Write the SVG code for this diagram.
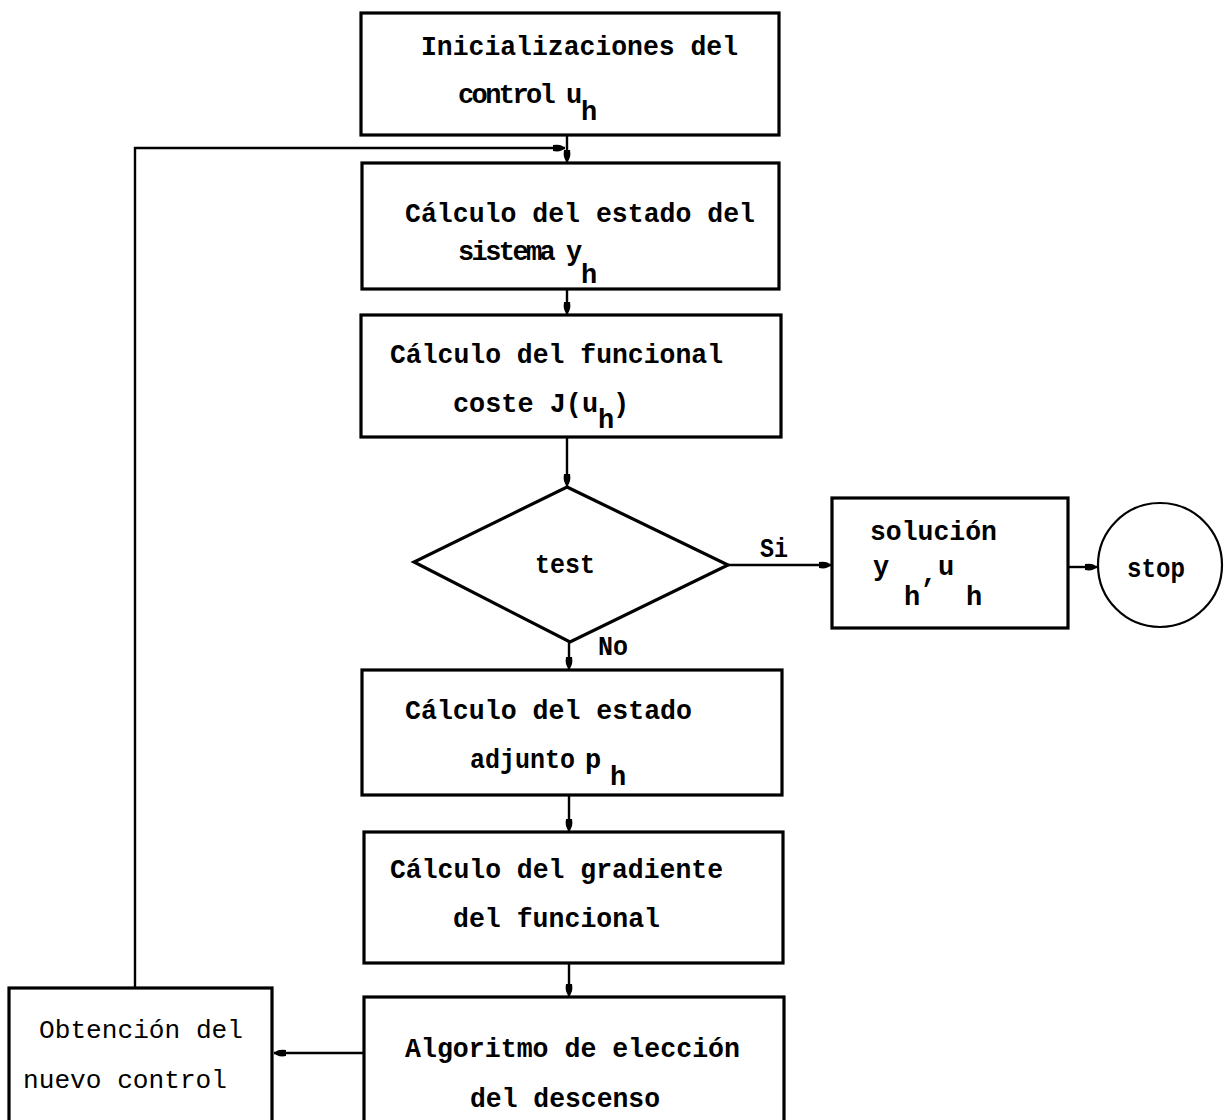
<svg xmlns="http://www.w3.org/2000/svg" width="1227" height="1120" viewBox="0 0 1227 1120">
<style>
.box{fill:none;stroke:#000;stroke-width:3.2}
.edge{fill:none;stroke:#000;stroke-width:2.4}
.t{font-family:"Liberation Mono","Courier New",monospace;font-size:27px;font-weight:bold;fill:#000}
.n{font-family:"Liberation Mono","Courier New",monospace;font-size:26px;font-weight:normal;fill:#000}
.tight{letter-spacing:-2.6px}
</style>
<defs>
<marker id="arr" markerUnits="userSpaceOnUse" markerWidth="16" markerHeight="12" refX="12" refY="6" orient="auto">
<path d="M0,3 Q8,1.5 12,6 Q8,10.5 0,9 z" fill="#000"/>
</marker>
</defs>
<rect width="1227" height="1120" fill="#fff"/>

<g id="connectors">
<line class="edge" x1="567" y1="136" x2="567" y2="162" marker-end="url(#arr)"/>
<polyline class="edge" points="135,988 135,148 565,148" marker-end="url(#arr)"/>
<line class="edge" x1="567" y1="290" x2="567" y2="314" marker-end="url(#arr)"/>
<line class="edge" x1="567" y1="438" x2="567" y2="486" marker-end="url(#arr)"/>
<line class="edge" x1="569" y1="642" x2="569" y2="669" marker-end="url(#arr)"/>
<line class="edge" x1="728" y1="565" x2="831" y2="565" marker-end="url(#arr)"/>
<line class="edge" x1="1069" y1="567" x2="1097" y2="567" marker-end="url(#arr)"/>
<line class="edge" x1="569" y1="796" x2="569" y2="831" marker-end="url(#arr)"/>
<line class="edge" x1="569" y1="964" x2="569" y2="996" marker-end="url(#arr)"/>
<line class="edge" x1="363" y1="1053" x2="274" y2="1053" marker-end="url(#arr)"/>
<text class="t" x="760" y="557" textLength="28" lengthAdjust="spacingAndGlyphs">Si</text>
<text class="t" x="598" y="655" textLength="30" lengthAdjust="spacingAndGlyphs">No</text>
</g>

<g id="init">
<rect class="box" x="361" y="13" width="418" height="122"/>
<text class="t" x="421" y="55" textLength="317" lengthAdjust="spacingAndGlyphs">Inicializaciones del</text>
<text class="t"><tspan class="tight" x="458" y="103">control </tspan><tspan x="566" y="103">u</tspan><tspan x="581" y="120">h</tspan></text>
</g>

<g id="estado">
<rect class="box" x="362" y="163" width="417" height="126"/>
<text class="t" x="405" y="222" textLength="350" lengthAdjust="spacingAndGlyphs">Cálculo del estado del</text>
<text class="t"><tspan class="tight" x="458" y="260">sistema </tspan><tspan x="566" y="260">y</tspan><tspan x="581" y="283">h</tspan></text>
</g>

<g id="funcional">
<rect class="box" x="361" y="315" width="420" height="122"/>
<text class="t" x="390" y="363" textLength="333" lengthAdjust="spacingAndGlyphs">Cálculo del funcional</text>
<text class="t"><tspan x="453" y="412" textLength="145" lengthAdjust="spacingAndGlyphs">coste J(u</tspan><tspan x="598" y="428">h</tspan><tspan x="613" y="412">)</tspan></text>
</g>

<g id="test">
<polygon class="box" points="567,487 728,565 570,642 414,562"/>
<text class="t" x="535" y="573" textLength="60" lengthAdjust="spacingAndGlyphs">test</text>
</g>

<g id="solucion">
<rect class="box" x="832" y="498" width="236" height="130"/>
<text class="t" x="870" y="540" textLength="127" lengthAdjust="spacingAndGlyphs">solución</text>
<text class="t"><tspan x="873" y="575">y</tspan><tspan x="904" y="605">h</tspan><tspan x="921" y="582" style="letter-spacing:-8px">,</tspan><tspan x="930" y="575" style="letter-spacing:-8px"> </tspan><tspan x="938" y="575">u</tspan><tspan x="966" y="605">h</tspan></text>
</g>

<g id="stop">
<circle cx="1160" cy="565" r="62" fill="none" stroke="#000" stroke-width="2.2"/>
<text class="t" x="1127" y="577" textLength="58" lengthAdjust="spacingAndGlyphs">stop</text>
</g>

<g id="adjunto">
<rect class="box" x="362" y="670" width="420" height="125"/>
<text class="t" x="405" y="719" textLength="287" lengthAdjust="spacingAndGlyphs">Cálculo del estado</text>
<text class="t"><tspan x="470" y="768" textLength="105" lengthAdjust="spacingAndGlyphs">adjunto</tspan><tspan x="585" y="768">p</tspan><tspan x="610" y="785">h</tspan></text>
</g>

<g id="gradiente">
<rect class="box" x="364" y="832" width="419" height="131"/>
<text class="t" x="390" y="878" textLength="333" lengthAdjust="spacingAndGlyphs">Cálculo del gradiente</text>
<text class="t" x="453" y="927" textLength="207" lengthAdjust="spacingAndGlyphs">del funcional</text>
</g>

<g id="algoritmo">
<rect class="box" x="364" y="997" width="420" height="140"/>
<text class="t" x="405" y="1057" textLength="335" lengthAdjust="spacingAndGlyphs">Algoritmo de elección</text>
<text class="t" x="470" y="1107" textLength="190" lengthAdjust="spacingAndGlyphs">del descenso</text>
</g>

<g id="obtencion">
<rect class="box" x="9" y="988" width="263" height="150" stroke-width="2.4"/>
<text class="n" x="39" y="1038" textLength="204" lengthAdjust="spacingAndGlyphs">Obtención del</text>
<text class="n" x="23" y="1088" textLength="204" lengthAdjust="spacingAndGlyphs">nuevo control</text>
</g>
</svg>
